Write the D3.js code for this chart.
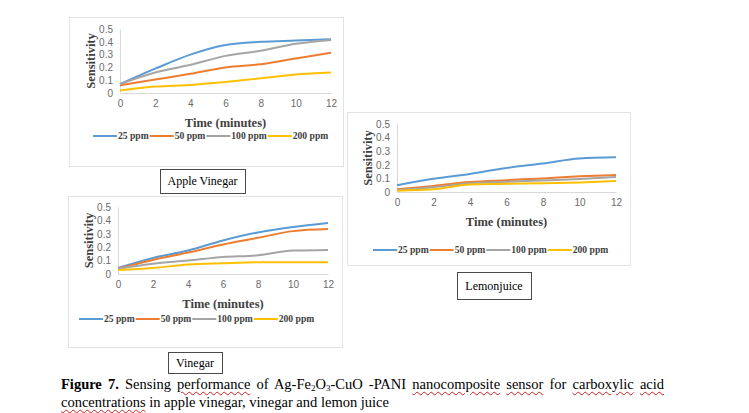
<!DOCTYPE html>
<html>
<head>
<meta charset="utf-8">
<script src="https://cdn.jsdelivr.net/npm/d3@7"></script>
<style>
  body { margin: 0; background: #fff; }
  #wrap { position: relative; width: 749px; height: 413px; overflow: hidden; }
  svg { position: absolute; left: 0; top: 0; }
  .caption { position: absolute; left: 61px; top: 375px; width: 603px;
    font-family: "Liberation Serif", "Times New Roman", serif; font-size: 14.5px;
    line-height: 18px; color: #000; }
  .caption div { white-space: nowrap; height: 18px; }
  .caption .just { white-space: normal; text-align: justify; text-align-last: justify; }
  .caption sub { font-size: 9px; line-height: 0; vertical-align: -2px; }
  .sp { text-decoration: underline wavy #d02020; text-decoration-thickness: 1px;
    text-underline-offset: 2px; }
</style>
</head>
<body>
<div id="wrap">
<div class="caption">
  <div class="just"><b>Figure 7.</b> Sensing <span class="sp">performance</span> of Ag-Fe<sub>2</sub>O<sub>3</sub>-CuO -PANI <span class="sp">nanocomposite</span> <span class="sp">sensor</span> for <span class="sp">carboxylic</span> <span class="sp">acid</span></div>
  <div><span class="sp">concentrations</span> in apple vinegar, vinegar and lemon juice</div>
</div>
</div>
<script>
// data (sensitivity vs time in minutes)
var times = [0, 2, 4, 6, 8, 10, 12];
var seriesNames = ["25 ppm", "50 ppm", "100 ppm", "200 ppm"];
var xTicks = [0, 2, 4, 6, 8, 10, 12];
var yTicks = [0, 0.1, 0.2, 0.3, 0.4, 0.5];

var apple25  = [0.07, 0.19, 0.30, 0.375, 0.40, 0.41, 0.42];
var apple50  = [0.06, 0.105, 0.15, 0.20, 0.225, 0.27, 0.315];
var apple100 = [0.07, 0.16, 0.22, 0.29, 0.33, 0.385, 0.415];
var apple200 = [0.02, 0.05, 0.063, 0.085, 0.115, 0.145, 0.16];

var vinegar25  = [0.045, 0.12, 0.175, 0.25, 0.31, 0.35, 0.38];
var vinegar50  = [0.04, 0.105, 0.16, 0.22, 0.27, 0.32, 0.335];
var vinegar100 = [0.04, 0.077, 0.10, 0.127, 0.14, 0.175, 0.18];
var vinegar200 = [0.03, 0.045, 0.07, 0.08, 0.087, 0.087, 0.087];

var lemon25  = [0.05, 0.097, 0.133, 0.177, 0.21, 0.247, 0.255];
var lemon50  = [0.02, 0.045, 0.073, 0.087, 0.10, 0.115, 0.125];
var lemon100 = [0.015, 0.035, 0.065, 0.075, 0.085, 0.095, 0.11];
var lemon200 = [0.01, 0.02, 0.055, 0.06, 0.065, 0.07, 0.08];

var colors = ["#5b9bd5", "#ed7d31", "#a5a5a5", "#ffc000"];

// layout of the three panels (frame, plot area, legend, caption box)
var panels = [
  { series: [apple25, apple50, apple100, apple200], label: "Apple Vinegar",
    frame: [69, 17, 343, 166], plot: [120, 29, 331, 93], legend: [93, 136],
    box: [160, 169, 245, 193] },
  { series: [vinegar25, vinegar50, vinegar100, vinegar200], label: "Vinegar",
    frame: [68, 196, 342, 347], plot: [118, 207, 328, 274], legend: [79, 319],
    box: [168, 352, 222, 373] },
  { series: [lemon25, lemon50, lemon100, lemon200], label: "Lemonjuice",
    frame: [347, 112, 630, 265], plot: [397, 124, 616, 192], legend: [373, 250],
    box: [457, 272, 531, 299] }
];

var serif = "'Liberation Serif', 'Times New Roman', serif";

var svg = d3.select("#wrap").insert("svg", ".caption")
    .attr("width", 749)
    .attr("height", 413);

panels.forEach(function(p) {
  var g = svg.append("g");

  g.append("rect")   // chart frame
      .attr("x", p.frame[0] + 0.5).attr("y", p.frame[1] + 0.5)
      .attr("width", p.frame[2] - p.frame[0]).attr("height", p.frame[3] - p.frame[1])
      .attr("fill", "#fff").attr("stroke", "#e3e3e3");

  var x = d3.scaleLinear().domain([0, 12]).range([p.plot[0], p.plot[2]]),
      y = d3.scaleLinear().domain([0, 0.5]).range([p.plot[3], p.plot[1]]);

  var xAxis = g.append("g")
      .attr("transform", "translate(0," + p.plot[3] + ")")
      .call(d3.axisBottom(x).tickValues(xTicks).tickSize(0).tickPadding(7).tickFormat(d3.format("d")));
  var yAxis = g.append("g")
      .attr("transform", "translate(" + p.plot[0] + ",0)")
      .call(d3.axisLeft(y).tickValues(yTicks).tickSize(0).tickPadding(7)
        .tickFormat(function(d) { return d === 0 ? "0" : d3.format(".1f")(d); }));

  [xAxis, yAxis].forEach(function(a) {
    a.select(".domain").attr("stroke", "#d9d9d9");
    a.selectAll("text")
        .attr("fill", "#6b6b6b")
        .style("font-family", "'Liberation Sans', Arial, sans-serif")
        .style("font-size", "10px");
  });

  var line = d3.line()
      .x(function(d, i) { return x(times[i]); })
      .y(function(d) { return y(d); })
      .curve(d3.curveMonotoneX);

  g.selectAll(".series")
      .data(p.series)
    .enter().append("path")
      .attr("d", line)
      .attr("fill", "none")
      .attr("stroke", function(d, i) { return colors[i]; })
      .attr("stroke-width", 2);

  // axis titles
  g.append("text")
      .attr("x", (p.plot[0] + p.plot[2]) / 2)
      .attr("y", p.plot[3] + 30)
      .attr("dy", "0.35em")
      .attr("text-anchor", "middle")
      .style("font-family", serif)
      .style("font-weight", "bold").style("font-size", "12.5px")
      .attr("fill", "#404040")
      .text("Time (minutes)");

  g.append("text")
      .attr("transform", "translate(" + (p.plot[0] - 29) + "," + ((p.plot[1] + p.plot[3]) / 2) + ")rotate(-90)")
      .attr("text-anchor", "middle")
      .attr("dy", "0.35em")
      .style("font-family", serif)
      .style("font-weight", "bold").style("font-size", "12.5px")
      .attr("fill", "#404040")
      .text("Sensitivity");

  // legend, laid out left to right
  var lx = p.legend[0];
  seriesNames.forEach(function(name, i) {
    g.append("line")
        .attr("x1", lx).attr("x2", lx + 24)
        .attr("y1", p.legend[1]).attr("y2", p.legend[1])
        .attr("stroke", colors[i]).attr("stroke-width", 2);
    var t = g.append("text")
        .attr("x", lx + 25).attr("y", p.legend[1])
        .attr("dy", "0.35em")
        .style("font-family", serif)
        .style("font-weight", "bold").style("font-size", "9.6px")
        .attr("fill", "#404040")
        .text(name);
    lx += 25 + t.node().getComputedTextLength() + 1;
  });

  // name box under the chart
  g.append("rect")
      .attr("x", p.box[0] + 0.5).attr("y", p.box[1] + 0.5)
      .attr("width", p.box[2] - p.box[0]).attr("height", p.box[3] - p.box[1])
      .attr("fill", "#fff").attr("stroke", "#4a4a4a");
  g.append("text")
      .attr("x", (p.box[0] + p.box[2]) / 2)
      .attr("y", (p.box[1] + p.box[3]) / 2)
      .attr("dy", "0.35em")
      .attr("text-anchor", "middle")
      .style("font-family", serif)
      .style("font-size", "12px")
      .text(p.label);
});
</script>
</body>
</html>
